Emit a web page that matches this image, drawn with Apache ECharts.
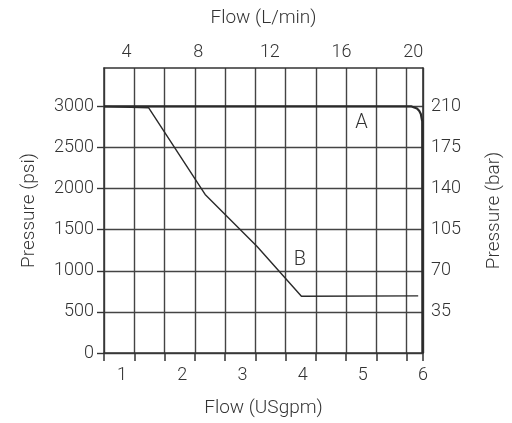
<!DOCTYPE html>
<html>
<head>
<meta charset="utf-8">
<script src="https://cdn.jsdelivr.net/npm/echarts@6/dist/echarts.min.js"></script>
<style>
  html, body { margin: 0; padding: 0; background: #fff; }
  #chart { width: 512px; height: 423px; }
</style>
</head>
<body>
<div id="chart"></div>
<script>
// Pressure / flow characteristic of the valve, two operating modes.
// Flow in US gallons per minute, pressure in psi.
const curveA_flow = [0.7, 5.81, 5.9, 5.936, 5.964, 5.987, 5.99];
const curveA_psi  = [3000, 3000, 2976, 2947, 2909, 2818, 0];

const curveB_flow = [0.7, 1.44, 2.38, 3.24, 3.98, 5.92];
const curveB_psi  = [3000, 2985, 1930, 1300, 690, 695];

// Axis ranges and tick labels
const gpmRange   = [0.7, 6.0];
const lpmRange   = [2.75, 20.54];
const psiRange   = [0, 3468];
const psiTicks   = [0, 500, 1000, 1500, 2000, 2500, 3000];
const barTicks   = [35, 70, 105, 140, 175, 210];
const PSI_PER_BAR = 3000 / 210;

const curveNames = ['A', 'B'];

const INK = '#333';
const FONT = 'Roboto';
const zip = (xs, ys) => xs.map((x, i) => [x, ys[i]]);

const chart = echarts.init(document.getElementById('chart'), null, { renderer: 'canvas' });

const labelStyle = { color: INK, fontFamily: FONT, fontWeight: 300, fontSize: 18 };
const titleStyle = { color: INK, fontFamily: FONT, fontWeight: 300, fontSize: 19 };

chart.setOption({
  animation: false,
  backgroundColor: '#fff',
  grid: { left: 104, right: 88.7, top: 68, bottom: 69.5, containLabel: false },
  xAxis: [
    { // chart grid: one cell per half gallon
      type: 'value', position: 'bottom', min: 0, max: 10.54, interval: 1,
      axisLine: { show: true, lineStyle: { color: INK, width: 1.5 } },
      axisTick: { show: true, length: 8, lineStyle: { color: INK, width: 1.5 } },
      splitLine: { show: true, lineStyle: { color: '#444', width: 1.4 } },
      axisLabel: { show: false }
    },
    { // USgpm scale
      type: 'value', position: 'bottom', min: gpmRange[0], max: gpmRange[1],
      minInterval: 1, maxInterval: 1,
      axisLine: { show: false }, axisTick: { show: false }, splitLine: { show: false },
      axisLabel: Object.assign({ margin: 13,
        formatter: v => Math.abs(v - Math.round(v)) < 1e-6 ? String(Math.round(v)) : '' }, labelStyle),
      name: 'Flow (USgpm)', nameLocation: 'middle', nameGap: 46,
      nameTextStyle: titleStyle
    },
    { // L/min scale
      type: 'value', position: 'top', min: lpmRange[0], max: lpmRange[1],
      minInterval: 4, maxInterval: 4,
      axisLine: { show: true, lineStyle: { color: INK, width: 1.5 } },
      axisTick: { show: false }, splitLine: { show: false },
      axisLabel: Object.assign({ margin: 7,
        formatter: v => Math.abs(v / 4 - Math.round(v / 4)) < 1e-6 ? String(Math.round(v)) : '' }, labelStyle),
      name: 'Flow (L/min)', nameLocation: 'middle', nameGap: 40,
      nameTextStyle: titleStyle
    }
  ],
  yAxis: [
    { // psi
      type: 'value', position: 'left', min: psiRange[0], max: psiRange[1], interval: 500,
      axisLine: { show: true, lineStyle: { color: INK, width: 1.5 } },
      axisTick: { show: true, length: 7, customValues: psiTicks, lineStyle: { color: INK, width: 1.4 } },
      splitLine: { show: true, lineStyle: { color: '#444', width: 1.4 } },
      axisLabel: Object.assign({ margin: 10, customValues: psiTicks,
        formatter: v => (v <= 3000 ? String(v) : '') }, labelStyle),
      name: 'Pressure (psi)', nameLocation: 'middle', nameGap: 65,
      nameTextStyle: titleStyle
    },
    { // bar
      type: 'value', position: 'right', min: psiRange[0] / PSI_PER_BAR, max: psiRange[1] / PSI_PER_BAR,
      interval: 35,
      axisLine: { show: true, lineStyle: { color: INK, width: 1.6 } },
      axisTick: { show: false }, splitLine: { show: false },
      axisLabel: Object.assign({ margin: 8, customValues: barTicks,
        formatter: v => (v > 0 && v <= 210 ? String(Math.round(v)) : '') }, labelStyle),
      name: 'Pressure (bar)', nameLocation: 'middle', nameGap: 62,
      nameTextStyle: titleStyle
    }
  ],
  series: [
    {
      name: curveNames[0], type: 'line', xAxisIndex: 1, yAxisIndex: 0,
      data: zip(curveA_flow, curveA_psi), showSymbol: false, smooth: false,
      lineStyle: { color: '#2a2a2a', width: 2.2 }, z: 5,
      markPoint: {
        symbol: 'circle', symbolSize: 0, silent: true,
        label: { show: true, position: 'inside', formatter: curveNames[0], color: INK, fontFamily: FONT, fontWeight: 300, fontSize: 20 },
        data: [{ coord: [4.98, 2796] }]
      }
    },
    {
      name: curveNames[1], type: 'line', xAxisIndex: 1, yAxisIndex: 0,
      data: zip(curveB_flow, curveB_psi), showSymbol: false, smooth: false,
      lineStyle: { color: '#2a2a2a', width: 1.4 }, z: 4,
      markPoint: {
        symbol: 'circle', symbolSize: 0, silent: true,
        label: { show: true, position: 'inside', formatter: curveNames[1], color: INK, fontFamily: FONT, fontWeight: 300, fontSize: 20 },
        data: [{ coord: [3.956, 1136] }]
      }
    }
  ]
});
</script>
</body>
</html>
